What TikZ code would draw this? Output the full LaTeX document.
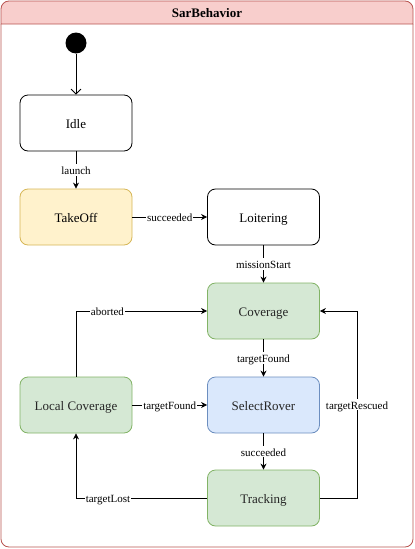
\documentclass[tikz,border=0pt]{standalone}
\usepackage{fontspec}
\setmainfont{Liberation Serif}
\usetikzlibrary{arrows.meta}

\definecolor{hdrfill}{HTML}{F8CECC}
\definecolor{hdrline}{HTML}{B85450}
\definecolor{yelfill}{HTML}{FFF2CC}
\definecolor{yelline}{HTML}{D6B656}
\definecolor{grnfill}{HTML}{D5E8D4}
\definecolor{grnline}{HTML}{82B366}
\definecolor{blufill}{HTML}{DAE8FC}
\definecolor{bluline}{HTML}{6C8EBF}

\tikzset{
	statebox/.style={draw, line width=0.8pt, rounded corners=8pt, minimum width=112pt, minimum height=56pt, text height=10.5pt, text depth=0.5pt, font=\fontsize{13}{15}\selectfont},
	trans/.style={draw, line width=0.8pt, -{Stealth[length=6pt, width=6pt]}},
	evt/.style={fill=white, inner sep=1pt, text height=9.5pt, text depth=0pt, font=\fontsize{11}{13}\selectfont}
}

\begin{document}
\begin{tikzpicture}[x=1pt, y=-1pt]
		\useasboundingbox (0,0) rectangle (415,549);
		% outer frame
		\filldraw[fill=hdrfill, draw=hdrline, line width=0.8pt] (1,24) {[rounded corners=8pt] -- (1,1) -- (413,1)} -- (413,24) -- cycle;
		\draw[draw=hdrline, line width=0.8pt, rounded corners=8pt] (1,24) -- (1,547) -- (413,547) -- (413,24);
		\node[font=\bfseries\fontsize{13}{15}\selectfont] (title) at (207,13) {SarBehavior};
		
		% states
		\fill (76,43) circle (10.5pt);
		\coordinate (init) at (76,54);
		\node[statebox] (idle) at (76,123) {Idle};
		\node[statebox, fill=yelfill, draw=yelline] (takeoff) at (76,217) {TakeOff};
		\node[statebox] (loiter) at (263.5,217) {Loitering};
		\node[statebox, fill=grnfill, draw=grnline, text=black!85] (cover) at (263.5,311) {Coverage};
		\node[statebox, fill=grnfill, draw=grnline, text=black!85] (localcov) at (76,405) {Local Coverage};
		\node[statebox, fill=blufill, draw=bluline, text=black!85] (select) at (263.5,405) {SelectRover};
		\node[statebox, fill=grnfill, draw=grnline, text=black!85] (track) at (263.5,498) {Tracking};
		\coordinate (rescue) at (357,311);
		
		% transitions
		\draw[line width=0.8pt, -{Straight Barb[length=5pt, width=10pt]}] (init) -- (idle.north);
		\draw[trans] (idle) -- node[evt] {launch} (takeoff);
		\draw[trans] (takeoff) -- node[evt] {succeeded} (loiter);
		\draw[trans] (loiter) -- node[evt] {missionStart} (cover);
		\draw[trans] (cover) -- node[evt] {targetFound} (select);
		\draw[trans] (select) -- node[evt] {succeeded} (track);
		\draw[trans] (localcov) -- node[evt] {targetFound} (select);
		\draw[trans] (localcov.north) |- node[evt, pos=0.62] {aborted} (cover.west);
		\draw[trans] (track.west) -| node[evt, pos=0.378] {targetLost} (localcov.south);
		\draw[trans] (track.east) -| node[evt, pos=0.75] {targetRescued} (rescue) -- (cover.east);
		
	\end{tikzpicture}
\end{document}
